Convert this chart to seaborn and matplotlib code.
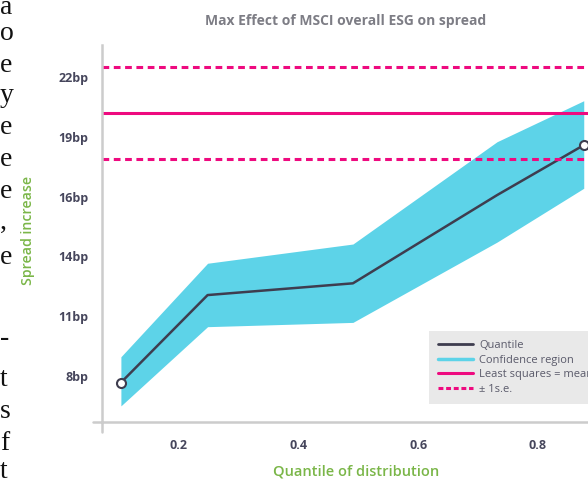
import numpy as np
import pandas as pd
import seaborn as sns
import matplotlib.pyplot as plt
from matplotlib.lines import Line2D

sns.set_theme(style="white")
plt.rcParams['font.family'] = ['Open Sans', 'DejaVu Sans']

# values (bp)
quantiles = [0.103, 0.248, 0.491, 0.732, 0.877]
effect = [7.69, 11.79, 12.34, 16.47, 18.81]
ci_low = [6.60, 10.31, 10.51, 14.27, 16.79]
ci_high = [8.90, 13.28, 14.18, 18.97, 20.89]
ls_mean = 20.32
ls_se = 2.15

ytick_vals = [8.0, 10.8, 13.6, 16.4, 19.2, 22.0]
ytick_labels = ["8bp", "11bp", "14bp", "16bp", "19bp", "22bp"]
xtick_vals = [0.2, 0.4, 0.6, 0.8]

# page text cut off on the left
side_letters = ["a", "o", "e", "y", "e", "e", "e", ",", "e", "-", "t", "s", "f", "t"]
side_y = [7, 33, 65, 96, 128, 160, 192, 222, 257, 338, 380, 412, 443, 471]

df = pd.DataFrame({"quantile": quantiles, "effect": effect})

W, H = 588, 479
fig = plt.figure(figsize=(W / 100, H / 100), dpi=100)
ax = fig.add_axes([102 / W, 57 / H, (627.4 - 102) / W, (422 - 45) / H])

cyan = "#5dd3e8"
dark = "#3e3d4f"
magenta = "#ee0a7f"
grey = "#cccccc"

ax.fill_between(quantiles, ci_low, ci_high, color=cyan, lw=0)
sns.lineplot(data=df, x="quantile", y="effect", color=dark, lw=1.8, ax=ax)
ax.plot([quantiles[0], quantiles[-1]], [effect[0], effect[-1]], ls="none",
        marker="o", ms=6.5, mfc="white", mec=dark, mew=1.5, zorder=5)

ax.axhline(ls_mean, color=magenta, lw=2.2)
for v in (ls_mean - ls_se, ls_mean + ls_se):
    ax.axhline(v, color=magenta, lw=2.2, dashes=(2.2, 1.5))

ax.set_xlim(0.0714, 0.95)
ax.set_ylim(5.846, 23.50)
ax.set_yticks(ytick_vals)
ax.set_yticklabels(ytick_labels)
ax.set_xticks(xtick_vals)
ax.set_xticklabels([f"{v:.1f}" for v in xtick_vals])

sns.despine(ax=ax)
for s in ("left", "bottom"):
    ax.spines[s].set_color(grey)
    ax.spines[s].set_linewidth(1.8)
ax.tick_params(axis="both", colors=grey, width=1.6, length=6, direction="out",
               labelcolor="#46465c", labelsize=9)
ax.tick_params(axis="y", pad=4)
ax.tick_params(axis="x", pad=6)
for lab in ax.get_xticklabels() + ax.get_yticklabels():
    lab.set_fontweight("bold")

# spine overhang
ax.plot([0, 0], [0, -10 / 377], color=grey, lw=1.8, transform=ax.transAxes, clip_on=False)
ax.plot([-9 / 525.4, 0], [0, 0], color=grey, lw=1.8, transform=ax.transAxes, clip_on=False)

ax.set_xlabel("")
ax.set_ylabel("")
green = "#7ab648"
fig.text(356 / W, 1 - 471 / H, "Quantile of distribution", color=green, fontsize=10.5,
         fontweight="semibold", ha="center", va="center")
fig.text(28 / W, 1 - 230 / H, "Spread increase", color=green, fontsize=10.2,
         fontweight="semibold", ha="center", va="center", rotation=90)
fig.text(346 / W, 1 - 21 / H, "Max Effect of MSCI overall ESG on spread", color="#7d7d85",
         fontsize=10, fontweight="bold", ha="center", va="center")

handles = [Line2D([], [], color=dark, lw=2),
           Line2D([], [], color=cyan, lw=2.5),
           Line2D([], [], color=magenta, lw=2.2),
           Line2D([], [], color=magenta, lw=2.2, dashes=(1.6, 0.9))]
labels = ["Quantile", "Confidence region", "Least squares = mean", "± 1s.e."]
leg = ax.legend(handles, labels, loc="lower left", bbox_to_anchor=(429 / W, 1 - 404 / H),
                bbox_transform=fig.transFigure, borderaxespad=0, fontsize=8,
                handlelength=3.2, handletextpad=0.5, labelspacing=0.34,
                borderpad=0.8, fancybox=False, framealpha=1)
leg.get_frame().set_facecolor("#e9e9e9")
leg.get_frame().set_edgecolor("none")
for t in leg.get_texts():
    t.set_color("#5a5a6a")

for ch, y in zip(side_letters, side_y):
    fig.text(0, 1 - y / H, ch, family="Liberation Serif", fontsize=20, color="#111111",
             ha="left", va="center")

fig.savefig("out.png", dpi=100)
